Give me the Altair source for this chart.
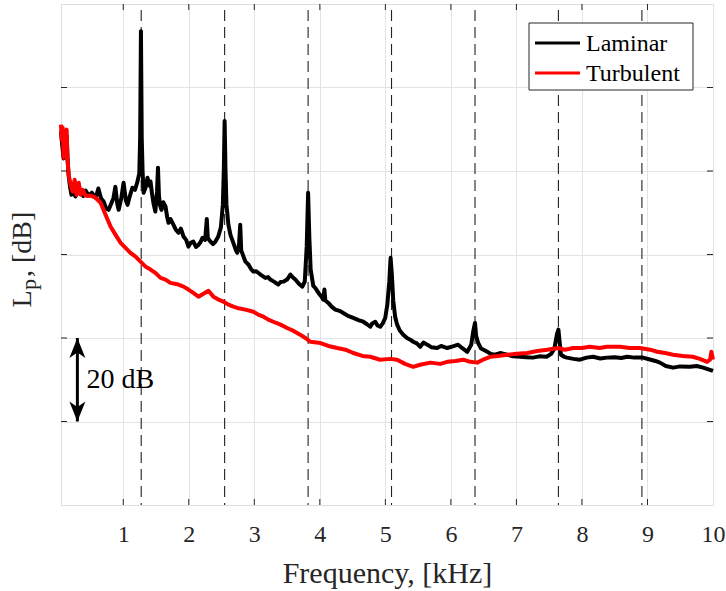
import altair as alt
import pandas as pd

# ---- data ----
lam_f = [0.05, 0.07, 0.09, 0.11, 0.136, 0.15, 0.166, 0.19, 0.21, 0.24, 0.27, 0.30, 0.35, 0.39, 0.425, 0.47, 0.52,
         0.58, 0.62, 0.66, 0.70, 0.74, 0.776, 0.806, 0.85, 0.88, 0.91, 0.93, 0.97, 1.005, 1.04, 1.066, 1.10, 1.14,
         1.18, 1.218, 1.245, 1.258, 1.27, 1.282, 1.295, 1.31, 1.34, 1.37, 1.40, 1.416, 1.44, 1.46, 1.49, 1.515,
         1.53, 1.545, 1.56, 1.584, 1.61, 1.645, 1.67, 1.69, 1.72, 1.767, 1.80, 1.843, 1.88, 1.92, 1.96, 1.995,
         2.03, 2.07, 2.11, 2.148, 2.18, 2.209, 2.25, 2.275, 2.29, 2.33, 2.37, 2.407, 2.45, 2.49, 2.52, 2.535,
         2.547, 2.56, 2.575, 2.605, 2.636, 2.68, 2.72, 2.74, 2.765, 2.785, 2.80, 2.826, 2.864, 2.91, 2.95, 2.986,
         3.03, 3.093, 3.13, 3.17, 3.21, 3.245, 3.30, 3.367, 3.40, 3.443, 3.50, 3.55, 3.59, 3.626, 3.68, 3.733,
         3.77, 3.80, 3.821, 3.84, 3.86, 3.90, 3.93, 3.98, 4.02, 4.053, 4.07, 4.084, 4.13, 4.18, 4.236, 4.30,
         4.358, 4.43, 4.51, 4.59, 4.663, 4.72, 4.77, 4.80, 4.846, 4.88, 4.922, 4.96, 4.998, 5.03, 5.06, 5.08,
         5.10, 5.12, 5.15, 5.18, 5.22, 5.273, 5.33, 5.38, 5.425, 5.48, 5.532, 5.58, 5.64, 5.70, 5.79, 5.85,
         5.944, 6.03, 6.11, 6.18, 6.25, 6.31, 6.34, 6.368, 6.385, 6.416, 6.46, 6.52, 6.554, 6.61, 6.675, 6.75,
         6.86, 6.95, 7.056, 7.15, 7.25, 7.35, 7.46, 7.53, 7.58, 7.62, 7.641, 7.66, 7.68, 7.73, 7.77, 7.87, 7.97,
         8.07, 8.17, 8.28, 8.38, 8.50, 8.60, 8.69, 8.80, 8.93, 9.05, 9.12, 9.19, 9.28, 9.39, 9.50, 9.65, 9.75,
         9.85, 9.93, 10.0]
lam_db = [89.5, 86.0, 83.0, 87.5, 88.5, 83.0, 79.0, 76.0, 74.3, 75.5, 73.9, 75.0, 75.1, 74.0, 75.3, 74.1, 74.8,
          73.6, 75.8, 73.5, 72.7, 71.0, 70.7, 71.8, 73.5, 76.2, 72.0, 70.7, 73.5, 77.2, 73.0, 71.9, 74.0, 76.0,
          75.5, 77.5, 79.5, 88.0, 113.5, 88.0, 80.0, 74.8, 76.0, 78.4, 76.5, 77.5, 74.5, 72.4, 70.3, 75.0,
          80.8, 74.0, 71.9, 70.7, 72.5, 71.5, 69.0, 67.6, 68.5, 67.1, 66.0, 65.2, 66.2, 64.3, 63.5, 61.9,
          62.8, 63.1, 61.8, 62.3, 63.0, 64.0, 63.5, 68.5, 64.0, 63.1, 62.5, 63.1, 64.3, 66.5, 72.0, 80.5,
          92.0, 80.5, 72.0, 67.1, 64.7, 62.8, 61.0, 60.4, 62.0, 67.1, 61.0, 59.9, 58.3, 57.6, 56.5, 55.9,
          56.0, 55.2, 54.8, 54.4, 54.6, 54.0, 53.5, 52.8, 53.4, 53.5, 54.0, 55.2, 54.5, 54.0, 53.0, 52.3,
          53.5, 62.0, 74.8, 64.0, 56.4, 52.5, 52.0, 50.8, 50.0, 49.2, 51.6, 49.0, 48.4, 47.5, 46.8, 46.5,
          46.0, 45.3, 44.8, 44.3, 43.9, 43.3, 42.7, 43.5, 43.9, 43.0, 42.7, 43.5, 44.8, 48.0, 53.5, 59.2,
          55.0, 49.0, 45.0, 43.2, 41.8, 40.8, 40.0, 39.6, 39.1, 38.7, 37.9, 38.9, 38.4, 37.8, 37.6, 38.1,
          37.6, 38.0, 38.4, 37.5, 36.7, 38.4, 41.5, 43.6, 40.5, 38.8, 37.5, 37.0, 36.7, 36.2, 36.0, 36.4,
          36.0, 35.6, 35.5, 35.4, 35.3, 35.6, 35.5, 36.2, 37.5, 41.0, 42.0, 39.0, 36.0, 35.5, 35.3, 35.0, 34.8,
          35.3, 35.5, 35.1, 35.3, 35.4, 35.2, 35.5, 35.3, 35.3, 34.8, 34.5, 34.1, 33.3, 32.9, 33.2, 33.1, 33.3,
          32.9, 32.5, 32.1]

tur_f = [0.05, 0.06, 0.075, 0.09, 0.113, 0.136, 0.15, 0.166, 0.197, 0.227, 0.258, 0.288, 0.32, 0.35, 0.38,
         0.425, 0.50, 0.578, 0.654, 0.73, 0.806, 0.883, 0.96, 1.035, 1.11, 1.187, 1.264, 1.34, 1.416, 1.49,
         1.57, 1.645, 1.72, 1.843, 1.92, 1.995, 2.07, 2.148, 2.224, 2.30, 2.376, 2.453, 2.53, 2.605, 2.68,
         2.74, 2.864, 2.986, 3.06, 3.14, 3.215, 3.29, 3.40, 3.50, 3.60, 3.70, 3.78, 3.855, 4.01, 4.13, 4.266,
         4.39, 4.51, 4.65, 4.77, 4.92, 5.075, 5.18, 5.30, 5.425, 5.53, 5.686, 5.84, 5.944, 6.07, 6.19, 6.295,
         6.40, 6.49, 6.60, 6.72, 6.86, 7.01, 7.165, 7.32, 7.47, 7.636, 7.74, 7.865, 8.00, 8.12, 8.27, 8.38,
         8.58, 8.73, 8.885, 9.04, 9.15, 9.27, 9.39, 9.54, 9.69, 9.80, 9.91, 9.955, 9.975, 10.0]
tur_db = [91.1, 87.5, 90.4, 83.2, 88.7, 89.9, 82.7, 79.1, 76.7, 75.1, 77.9, 74.3, 77.2, 74.3, 75.5,
          74.1, 74.1, 73.6, 72.4, 69.5, 66.7, 64.7, 62.8, 61.6, 60.4, 59.5, 58.3, 57.1, 56.4, 55.6,
          54.4, 54.0, 53.2, 52.8, 52.3, 51.6, 50.8, 49.9, 50.6, 51.3, 49.9, 49.2, 48.7, 48.0, 47.5,
          47.2, 46.8, 46.3, 45.6, 45.1, 44.4, 43.9, 43.2, 42.4, 41.7, 40.8, 40.0, 39.1, 38.8, 38.1, 37.6,
          37.2, 36.4, 35.7, 35.5, 34.8, 35.0, 34.8, 33.8, 33.1, 33.6, 34.1, 33.8, 34.3, 34.5, 34.8, 34.3,
          34.1, 34.8, 35.5, 35.7, 36.0, 36.2, 36.4, 36.9, 37.2, 37.6, 37.2, 37.6, 37.6, 37.9, 37.6, 37.9,
          37.9, 37.6, 37.6, 37.2, 36.7, 36.4, 36.0, 35.7, 35.5, 35.0, 34.3, 34.8, 36.7, 34.8]

harmonics = [1.274, 2.547, 3.821, 5.094, 6.368, 7.641, 8.915]
x_ticks = [1, 2, 3, 4, 5, 6, 7, 8, 9, 10]
y_ticks = [20, 40, 60, 80, 100]
series_names = ["Laminar", "Turbulent"]
series_colors = ["black", "red"]
arrow_x = [0.30]
arrow_lo = [20]
arrow_hi = [40]
scale_label = ["20 dB"]
scale_label_x = [0.44]
scale_label_y = [30]

FONT = "Liberation Serif"
AX = "#262626"
W, H = 652, 501
LW = 4.0

lam = pd.DataFrame({"f": lam_f, "L": lam_db})
tur = pd.DataFrame({"f": tur_f, "L": tur_db})

xs = alt.Scale(domain=[0.05, 10], nice=False, zero=False)
ys = alt.Scale(domain=[0, 120], nice=False, zero=False)

xaxis = alt.Axis(values=x_ticks, format="d", labelFont=FONT, labelFontSize=24, labelColor=AX,
                 labelPadding=17, ticks=False, tickSize=0, domain=False, grid=True, gridColor="#e3e3e3",
                 labelFlush=False, labelOverlap=False, title="Frequency, [kHz]", titleFont=FONT,
                 titleFontSize=30, titleFontWeight="normal", titleColor=AX, titlePadding=12)
yaxis = alt.Axis(values=y_ticks, labels=False, ticks=False, tickSize=0, domain=False, grid=True,
                 gridColor="#e3e3e3", title=None)

grid_base = alt.Chart(pd.DataFrame({"f": [5], "L": [60]})).mark_point(opacity=0).encode(
    x=alt.X("f:Q", scale=xs, axis=xaxis), y=alt.Y("L:Q", scale=ys, axis=yaxis))

dash_df = pd.DataFrame({"h": harmonics})
dashes = alt.Chart(dash_df).mark_rule(color="#222222", strokeWidth=1.1, strokeDash=[11, 6]).encode(
    x=alt.X("h:Q", scale=xs), y=alt.value(6), y2=alt.value(H))

lam_line = alt.Chart(lam).mark_line(strokeWidth=LW, strokeJoin="round", color=series_colors[0]).encode(
    x=alt.X("f:Q", scale=xs), y=alt.Y("L:Q", scale=ys), order="f:Q")
tur_line = alt.Chart(tur).mark_line(strokeWidth=LW, strokeJoin="round", color=series_colors[1]).encode(
    x=alt.X("f:Q", scale=xs), y=alt.Y("L:Q", scale=ys), order="f:Q")

xt = pd.DataFrame({"t": x_ticks[:-1]})
yt = pd.DataFrame({"t": y_ticks})
tick_b = alt.Chart(xt).mark_rule(color=AX, strokeWidth=1).encode(
    x=alt.X("t:Q", scale=xs), y=alt.value(H), y2=alt.value(H - 6))
tick_t = alt.Chart(xt).mark_rule(color=AX, strokeWidth=1).encode(
    x=alt.X("t:Q", scale=xs), y=alt.value(0), y2=alt.value(6))
tick_l = alt.Chart(yt).mark_rule(color=AX, strokeWidth=1).encode(
    y=alt.Y("t:Q", scale=ys), x=alt.value(0), x2=alt.value(6))
tick_r = alt.Chart(yt).mark_rule(color=AX, strokeWidth=1).encode(
    y=alt.Y("t:Q", scale=ys), x=alt.value(W), x2=alt.value(W - 6))

arr = pd.DataFrame({"x": arrow_x, "lo": arrow_lo, "hi": arrow_hi})
shaft = alt.Chart(arr).mark_rule(color="black", strokeWidth=3).encode(
    x=alt.X("x:Q", scale=xs), y=alt.Y("lo:Q", scale=ys), y2="hi:Q")
head_up = alt.Chart(arr).mark_point(shape="M0,-1L0.8,1L0,0.45L-0.8,1Z", filled=True, opacity=1,
                                    color="black", size=400, yOffset=10).encode(
    x=alt.X("x:Q", scale=xs), y=alt.Y("hi:Q", scale=ys))
head_dn = alt.Chart(arr).mark_point(shape="M0,1L0.8,-1L0,-0.45L-0.8,-1Z", filled=True, opacity=1,
                                    color="black", size=400, yOffset=-10).encode(
    x=alt.X("x:Q", scale=xs), y=alt.Y("lo:Q", scale=ys))
lab_df = pd.DataFrame({"x": scale_label_x, "y": scale_label_y, "t": scale_label})
scale_text = alt.Chart(lab_df).mark_text(font=FONT, fontSize=28, align="left", baseline="middle",
                                          color="black").encode(
    x=alt.X("x:Q", scale=xs), y=alt.Y("y:Q", scale=ys), text="t:N")

# legend box (MATLAB style), built from marks
one = pd.DataFrame({"a": [0]})
leg_box = alt.Chart(one).mark_rect(fill="white", stroke=AX, strokeWidth=1).encode(
    x=alt.value(468), x2=alt.value(632), y=alt.value(19), y2=alt.value(86))
leg_layers = []
for i, (name, col) in enumerate(zip(series_names, series_colors)):
    yrow = 39 + 30 * i
    leg_layers.append(alt.Chart(one).mark_rule(strokeWidth=3, color=col).encode(
        x=alt.value(474), x2=alt.value(519), y=alt.value(yrow)))
    leg_layers.append(alt.Chart(pd.DataFrame({"t": [name]})).mark_text(
        font=FONT, fontSize=24, align="left", baseline="middle", color="black").encode(
        x=alt.value(525), y=alt.value(yrow + 1), text="t:N"))

# y-axis title with subscript, built from text pieces
yt_main = alt.Chart(pd.DataFrame({"t": ["L"]})).mark_text(
    font=FONT, fontSize=28, angle=270, align="left", baseline="alphabetic", color=AX).encode(
    x=alt.value(-30), y=alt.value(303.5), text="t:N")
yt_sub = alt.Chart(pd.DataFrame({"t": ["p"]})).mark_text(
    font=FONT, fontSize=22, angle=270, align="left", baseline="alphabetic", color=AX).encode(
    x=alt.value(-25), y=alt.value(286), text="t:N")
yt_rest = alt.Chart(pd.DataFrame({"t": [", [dB]"]})).mark_text(
    font=FONT, fontSize=28, angle=270, align="left", baseline="alphabetic", color=AX).encode(
    x=alt.value(-30), y=alt.value(273), text="t:N")

chart = alt.layer(
    grid_base, dashes, lam_line, tur_line, tick_b, tick_t, tick_l, tick_r,
    shaft, head_up, head_dn, scale_text, leg_box, *leg_layers, yt_main, yt_sub, yt_rest
).properties(
    width=W, height=H,
    autosize=alt.AutoSizeParams(type="none"),
    padding={"left": 61, "top": 4, "right": 13, "bottom": 86},
).configure_view(stroke=AX, strokeWidth=1).configure(background="white")

chart.save("out.html", embed_options={"renderer": "svg", "actions": False})
